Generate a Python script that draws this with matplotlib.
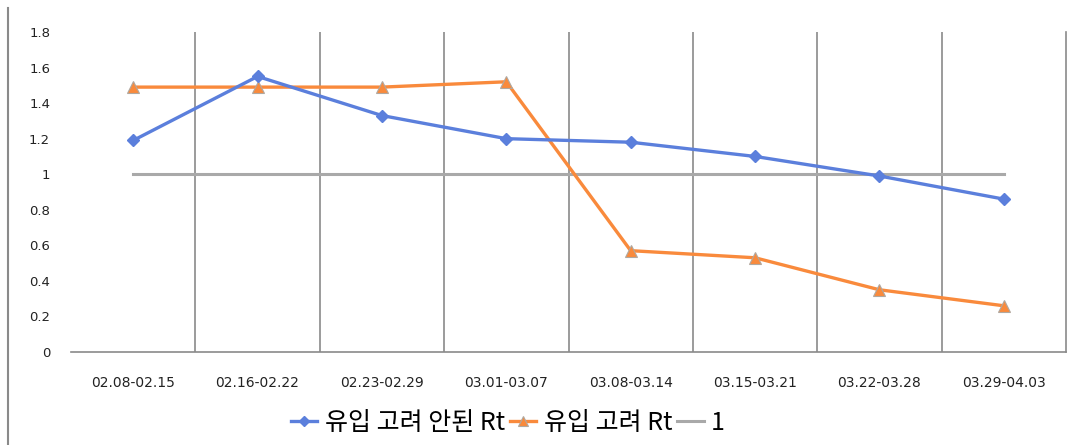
import matplotlib

matplotlib.use("Agg")

import matplotlib.pyplot as plt
from matplotlib.lines import Line2D

plt.rcParams["font.family"] = ["Noto Sans CJK KR", "DejaVu Sans"]

periods = [
    "02.08-02.15", "02.16-02.22", "02.23-02.29", "03.01-03.07",
    "03.08-03.14", "03.15-03.21", "03.22-03.28", "03.29-04.03",
]
rt_no_import = [1.19, 1.55, 1.33, 1.20, 1.18, 1.10, 0.99, 0.86]
rt_import = [1.49, 1.49, 1.49, 1.52, 0.57, 0.53, 0.35, 0.26]
threshold = [1, 1, 1, 1, 1, 1, 1, 1]
y_ticks = [0, 0.2, 0.4, 0.6, 0.8, 1, 1.2, 1.4, 1.6, 1.8]
y_tick_labels = ["0", "0.2", "0.4", "0.6", "0.8", "1", "1.2", "1.4", "1.6", "1.8"]

W, H = 1072, 445
fig = plt.figure(figsize=(W / 100, H / 100), dpi=100)
ax = fig.add_axes([71 / W, (H - 352) / H, (1066 - 71) / W, 320 / H])

x = list(range(len(periods)))
ax.plot(x, rt_no_import, color="#5b7fdc", linewidth=2.4, marker="D",
        markersize=6, label="유입 고려 안된 Rt", zorder=4)
ax.plot(x, rt_import, color="#f98a3c", linewidth=2.4, marker="^",
        markersize=8, markeredgecolor="#b0a8a0", markeredgewidth=0.8,
        label="유입 고려 Rt", zorder=3)
ax.plot(x, threshold, color="#a9a9a9", linewidth=2.2, label="1", zorder=2)

ax.set_xlim(-0.5, len(periods) - 0.5)
ax.set_ylim(0, 1.8)
ax.set_xticks(x)
ax.set_xticklabels(periods, fontsize=10, color="#222222", family="DejaVu Sans")
ax.set_yticks(y_ticks)
ax.set_yticklabels(y_tick_labels, fontsize=9.5, color="#222222", family="DejaVu Sans")
ax.tick_params(axis="x", length=0, pad=17)
ax.tick_params(axis="y", length=0, pad=15)

# vertical lines between categories
for b in range(1, len(periods)):
    ax.axvline(b - 0.5, color="#8a8a8a", linewidth=1.2, zorder=1)

for side in ["top", "left"]:
    ax.spines[side].set_visible(False)
ax.spines["right"].set_color("#8a8a8a")
ax.spines["right"].set_linewidth(1.2)
ax.spines["bottom"].set_color("#8a8a8a")
ax.spines["bottom"].set_linewidth(1.2)

fig.add_artist(Line2D([8 / W, 8 / W], [0, 1 - 8 / H], color="#8a8a8a", linewidth=1.5))

ax.legend(loc="center", bbox_to_anchor=(508 / W, (H - 423) / H),
          bbox_transform=fig.transFigure, ncol=3, frameon=False,
          fontsize=18, handlelength=1.05, handletextpad=0.3, columnspacing=0.2,
          markerscale=0.9)

fig.savefig("out.png", dpi=100)
